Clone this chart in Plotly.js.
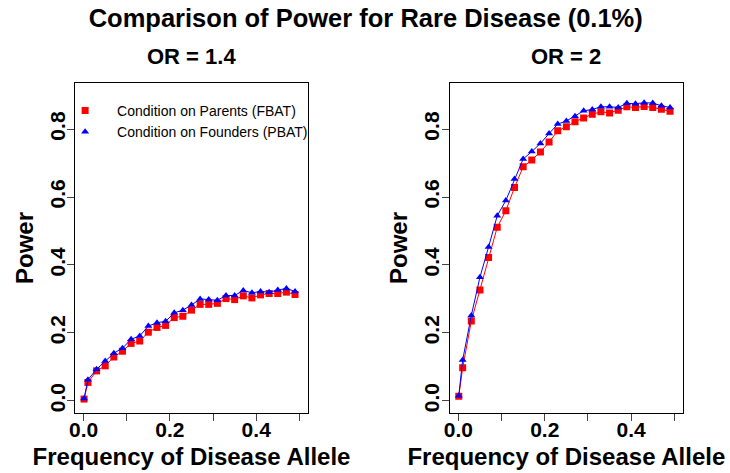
<!DOCTYPE html>
<html>
<head>
<meta charset="utf-8">
<script src="https://cdn.plot.ly/plotly-3.0.1.min.js"></script>
<style>
  html, body { margin: 0; padding: 0; background: #fff; }
  #chart { width: 730px; height: 473px; }
</style>
</head>
<body>
<div id="chart"></div>
<script>
// allele frequency on the x axis
const freq = [0.001, 0.01, 0.03, 0.05, 0.07, 0.09, 0.11, 0.13, 0.15, 0.17, 0.19, 0.21, 0.23,
              0.25, 0.27, 0.29, 0.31, 0.33, 0.35, 0.37, 0.39, 0.41, 0.43, 0.45, 0.47, 0.49]

// power, OR = 1.4
const fbatOR14 = [0.005, 0.054, 0.088, 0.103, 0.129, 0.146, 0.169, 0.176, 0.202, 0.216, 0.222, 0.245, 0.249,
                  0.267, 0.284, 0.284, 0.287, 0.301, 0.298, 0.309, 0.303, 0.312, 0.316, 0.316, 0.320, 0.313]
const pbatOR14 = [0.007, 0.062, 0.093, 0.117, 0.140, 0.155, 0.181, 0.191, 0.220, 0.230, 0.234, 0.259, 0.267,
                  0.282, 0.300, 0.298, 0.296, 0.310, 0.310, 0.325, 0.318, 0.322, 0.320, 0.326, 0.331, 0.322]

// power, OR = 2
const fbatOR2 = [0.013, 0.097, 0.235, 0.326, 0.422, 0.511, 0.560, 0.628, 0.689, 0.709, 0.733, 0.762, 0.795,
                 0.807, 0.822, 0.833, 0.844, 0.851, 0.848, 0.856, 0.866, 0.864, 0.867, 0.864, 0.859, 0.853]
const pbatOR2 = [0.015, 0.120, 0.251, 0.364, 0.453, 0.545, 0.590, 0.653, 0.712, 0.734, 0.758, 0.787, 0.815,
                 0.824, 0.838, 0.854, 0.858, 0.866, 0.866, 0.864, 0.876, 0.875, 0.878, 0.877, 0.869, 0.864]

const labels = ['Condition on Parents (FBAT)', 'Condition on Founders (PBAT)']
const xTicks = [0, 0.1, 0.2, 0.3, 0.4, 0.5]
const xTickText = ['0.0', '', '0.2', '', '0.4', '']
const yTicks = [0, 0.2, 0.4, 0.6, 0.8]
const yTickText = ['0.0', '0.2', '0.4', '0.6', '0.8']

const FONT = 'Liberation Sans, Arial, Helvetica, sans-serif'
const red = '#ff0000', blue = '#0000ff'

// one panel = line + markers for each method
const panel = (fbat, pbat, xa, ya, legend) => [
    { x: freq, y: fbat, xaxis: xa, yaxis: ya, mode: 'lines', line: { color: red, width: 1 },
      showlegend: false, hoverinfo: 'skip' },
    { x: freq, y: fbat, xaxis: xa, yaxis: ya, mode: 'markers', name: labels[0],
      marker: { symbol: 'square', size: 7, color: red }, showlegend: legend },
    { x: freq, y: pbat, xaxis: xa, yaxis: ya, mode: 'lines', line: { color: blue, width: 1 },
      showlegend: false, hoverinfo: 'skip' },
    { x: freq, y: pbat, xaxis: xa, yaxis: ya, mode: 'markers', name: labels[1],
      marker: { symbol: 'triangle-up', size: 7, color: blue }, showlegend: legend }
]

const data = [...panel(fbatOR14, pbatOR14, 'x', 'y', true), ...panel(fbatOR2, pbatOR2, 'x2', 'y2', false)]

const xAxis = (domain, anchor) => ({
    domain: domain, anchor: anchor, range: [-0.02, 0.52],
    tickmode: 'array', tickvals: xTicks, ticktext: xTickText,
    ticks: 'outside', ticklen: 7, tickcolor: '#444', tickwidth: 1, ticklabelstandoff: -9,
    tickfont: { family: FONT, size: 21, color: '#000', weight: 'bold' },
    showline: true, linecolor: '#000', linewidth: 1, mirror: true,
    showgrid: false, zeroline: false,
    title: { text: 'Frequency of Disease Allele', standoff: 7,
             font: { family: FONT, size: 24, color: '#000', weight: 'bold' } }
})
const yAxis = (anchor) => ({
    domain: [0, 1], anchor: anchor, range: [-0.036, 0.936],
    tickmode: 'array', tickvals: yTicks, ticktext: yTickText, tickangle: -90,
    ticks: 'outside', ticklen: 7, tickcolor: '#444', tickwidth: 1, ticklabelstandoff: -6,
    tickfont: { family: FONT, size: 21, color: '#000', weight: 'bold' },
    showline: true, linecolor: '#000', linewidth: 1, mirror: true,
    showgrid: false, zeroline: false,
    title: { text: 'Power', standoff: 5,
             font: { family: FONT, size: 24, color: '#000', weight: 'bold' } }
})

const layout = {
    width: 730, height: 473,
    margin: { l: 75, r: 47, t: 83, b: 60 },
    paper_bgcolor: '#fff', plot_bgcolor: '#fff',
    font: { family: FONT, color: '#000' },
    title: { text: 'Comparison of Power for Rare Disease (0.1%)',
             x: 0.501, xref: 'container', xanchor: 'center',
             y: 0.962, yref: 'container', yanchor: 'middle',
             font: { family: FONT, size: 25.5, color: '#000', weight: 'bold' } },
    xaxis: xAxis([0, 0.3832], 'y'),
    yaxis: yAxis('x'),
    xaxis2: xAxis([0.6163, 1], 'y2'),
    yaxis2: yAxis('x2'),
    showlegend: true,
    legend: { x: -0.036, xanchor: 'left', y: 0.964, yanchor: 'top', itemwidth: 54,
              bgcolor: 'rgba(0,0,0,0)', borderwidth: 0,
              font: { family: FONT, size: 14, color: '#000' } },
    annotations: [
        { text: 'OR = 1.4', xref: 'x domain', x: 0.5, yref: 'paper', y: 1.081, yanchor: 'middle',
          showarrow: false, font: { family: FONT, size: 22, color: '#000', weight: 'bold' } },
        { text: 'OR = 2', xref: 'x2 domain', x: 0.5, yref: 'paper', y: 1.081, yanchor: 'middle',
          showarrow: false, font: { family: FONT, size: 22, color: '#000', weight: 'bold' } }
    ]
}

Plotly.newPlot('chart', data, layout, { displayModeBar: false, staticPlot: true })
</script>
</body>
</html>
